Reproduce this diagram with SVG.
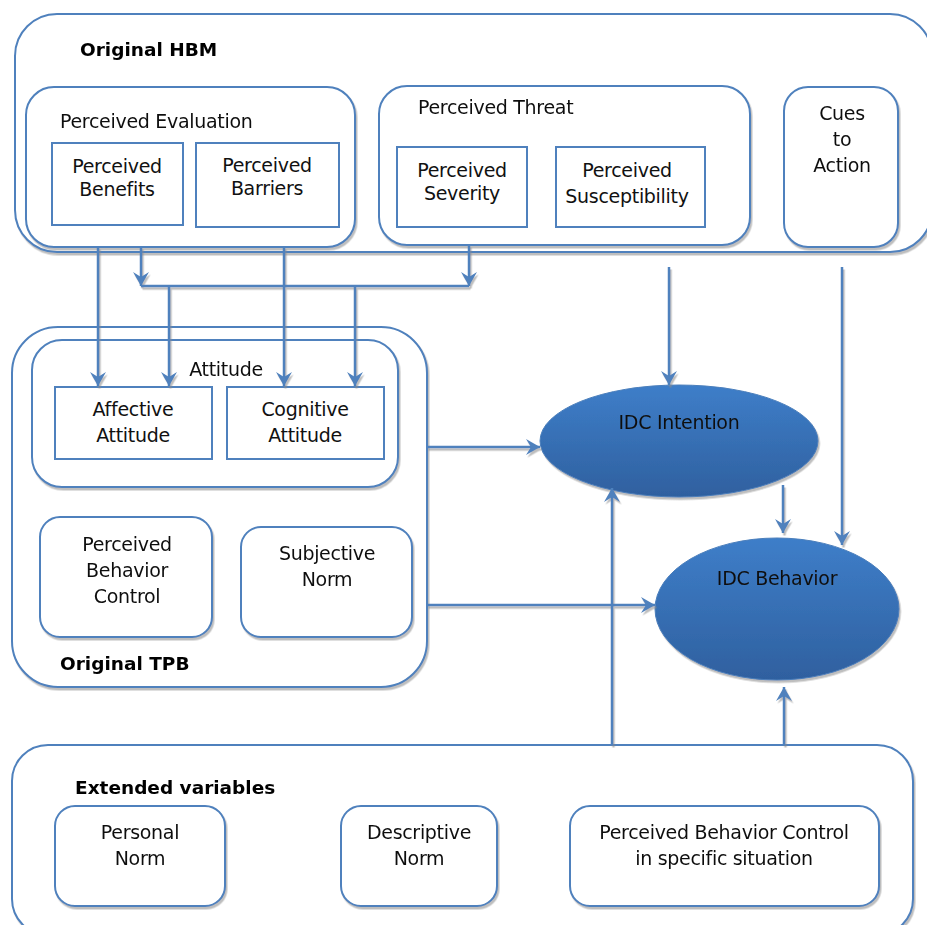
<svg xmlns="http://www.w3.org/2000/svg" width="927" height="925" viewBox="0 0 927 925">
<style>
.box{fill:#fff;stroke:#4f81bd;stroke-width:2}
.t{font-family:"DejaVu Sans",Verdana,sans-serif;font-size:19px;letter-spacing:-0.3px;fill:#111}
.c{text-anchor:middle}
.b{font-weight:bold;fill:#000;font-size:18.5px;letter-spacing:0}
.ln{fill:none;stroke:#4f81bd;stroke-width:2.5}
.el{fill:url(#g);stroke:#4a7ebb;stroke-width:1}
</style>
<defs>
<linearGradient id="g" x1="0" y1="0" x2="0" y2="1">
<stop offset="0" stop-color="#3e7ec9"/>
<stop offset="1" stop-color="#2f609f"/>
</linearGradient>
<filter id="sh" x="-5%" y="-5%" width="110%" height="115%">
<feDropShadow dx="1.5" dy="2.5" stdDeviation="0.6" flood-color="#888" flood-opacity="0.55"/>
</filter>
<marker id="a" viewBox="0 0 14 16" refX="14" refY="8" markerWidth="14" markerHeight="16" markerUnits="userSpaceOnUse" orient="auto">
<path d="M0,0 L14,8 L0,16 L5,8 z" fill="#4f81bd"/>
</marker>
</defs>

<g id="hbm" filter="url(#sh)">
<rect class="box" x="15" y="14" width="917" height="238" rx="42"/>
<text class="t b" x="80" y="56">Original HBM</text>
</g>
<g id="perceived-evaluation" filter="url(#sh)">
<rect class="box" x="26" y="87" width="329" height="160" rx="28"/>
<text class="t" x="60" y="128">Perceived Evaluation</text>
</g>
<g id="perceived-benefits">
<rect class="box" x="52" y="143" width="131" height="82" rx="0"/>
<text class="t c" x="117" y="173">Perceived</text>
<text class="t c" x="117" y="196">Benefits</text>
</g>
<g id="perceived-barriers">
<rect class="box" x="196" y="143" width="143" height="84" rx="0"/>
<text class="t c" x="267" y="172">Perceived</text>
<text class="t c" x="267" y="195">Barriers</text>
</g>
<g id="perceived-threat" filter="url(#sh)">
<rect class="box" x="379" y="86" width="371" height="159" rx="28"/>
<text class="t" x="418" y="114">Perceived Threat</text>
</g>
<g id="perceived-severity">
<rect class="box" x="397" y="147" width="130" height="80" rx="0"/>
<text class="t c" x="462" y="177">Perceived</text>
<text class="t c" x="462" y="200">Severity</text>
</g>
<g id="perceived-susceptibility">
<rect class="box" x="556" y="147" width="149" height="80" rx="0"/>
<text class="t c" x="627" y="177">Perceived</text>
<text class="t c" x="627" y="203">Susceptibility</text>
</g>
<g id="cues-to-action" filter="url(#sh)">
<rect class="box" x="784" y="87" width="114" height="160" rx="24"/>
<text class="t c" x="842" y="120">Cues</text>
<text class="t c" x="842" y="146">to</text>
<text class="t c" x="842" y="172">Action</text>
</g>

<g id="tpb" filter="url(#sh)">
<rect class="box" x="12" y="327" width="415" height="360" rx="46"/>
<text class="t b" x="60" y="670">Original TPB</text>
</g>
<g id="attitude" filter="url(#sh)">
<rect class="box" x="32" y="340" width="366" height="147" rx="30"/>
<text class="t c" x="226" y="376">Attitude</text>
</g>
<g id="affective-attitude">
<rect class="box" x="55" y="387" width="157" height="72" rx="0"/>
<text class="t c" x="133" y="416">Affective</text>
<text class="t c" x="133" y="442">Attitude</text>
</g>
<g id="cognitive-attitude">
<rect class="box" x="227" y="387" width="157" height="72" rx="0"/>
<text class="t c" x="305" y="416">Cognitive</text>
<text class="t c" x="305" y="442">Attitude</text>
</g>
<g id="pbc" filter="url(#sh)">
<rect class="box" x="40" y="517" width="172" height="120" rx="20"/>
<text class="t c" x="127" y="551">Perceived</text>
<text class="t c" x="127" y="577">Behavior</text>
<text class="t c" x="127" y="603">Control</text>
</g>
<g id="subjective-norm" filter="url(#sh)">
<rect class="box" x="241" y="527" width="171" height="110" rx="20"/>
<text class="t c" x="327" y="560">Subjective</text>
<text class="t c" x="327" y="586">Norm</text>
</g>

<g id="idc-intention" filter="url(#sh)">
<ellipse class="el" cx="679" cy="441" rx="139" ry="56"/>
<text class="t c" x="679" y="429">IDC Intention</text>
</g>
<g id="idc-behavior" filter="url(#sh)">
<ellipse class="el" cx="777" cy="609" rx="122" ry="71"/>
<text class="t c" x="777" y="585">IDC Behavior</text>
</g>

<g id="extended" filter="url(#sh)">
<rect class="box" x="12" y="745" width="901" height="190" rx="36"/>
<text class="t b" x="75" y="794">Extended variables</text>
</g>
<g id="personal-norm" filter="url(#sh)">
<rect class="box" x="55" y="806" width="170" height="100" rx="20"/>
<text class="t c" x="140" y="839">Personal</text>
<text class="t c" x="140" y="865">Norm</text>
</g>
<g id="descriptive-norm" filter="url(#sh)">
<rect class="box" x="341" y="806" width="156" height="100" rx="20"/>
<text class="t c" x="419" y="839">Descriptive</text>
<text class="t c" x="419" y="865">Norm</text>
</g>
<g id="pbc-specific" filter="url(#sh)">
<rect class="box" x="570" y="806" width="309" height="100" rx="20"/>
<text class="t c" x="724" y="839">Perceived Behavior Control</text>
<text class="t c" x="724" y="865">in specific situation</text>
</g>

<g id="connectors" filter="url(#sh)">
<path class="ln" d="M98,247 V386" marker-end="url(#a)"/>
<path class="ln" d="M141,247 V286" marker-end="url(#a)"/>
<path class="ln" d="M469,245 V286" marker-end="url(#a)"/>
<path class="ln" d="M141,286 H469"/>
<path class="ln" d="M169,286 V386" marker-end="url(#a)"/>
<path class="ln" d="M355,286 V386" marker-end="url(#a)"/>
<path class="ln" d="M284,247 V386" marker-end="url(#a)"/>
<path class="ln" d="M669,267 V385" marker-end="url(#a)"/>
<path class="ln" d="M842,267 V545" marker-end="url(#a)"/>
<path class="ln" d="M783,485 V533" marker-end="url(#a)"/>
<path class="ln" d="M427,447 H540" marker-end="url(#a)"/>
<path class="ln" d="M427,605 H655" marker-end="url(#a)"/>
<path class="ln" d="M612,745 V488" marker-end="url(#a)"/>
<path class="ln" d="M784,745 V687" marker-end="url(#a)"/>
</g>
</svg>
